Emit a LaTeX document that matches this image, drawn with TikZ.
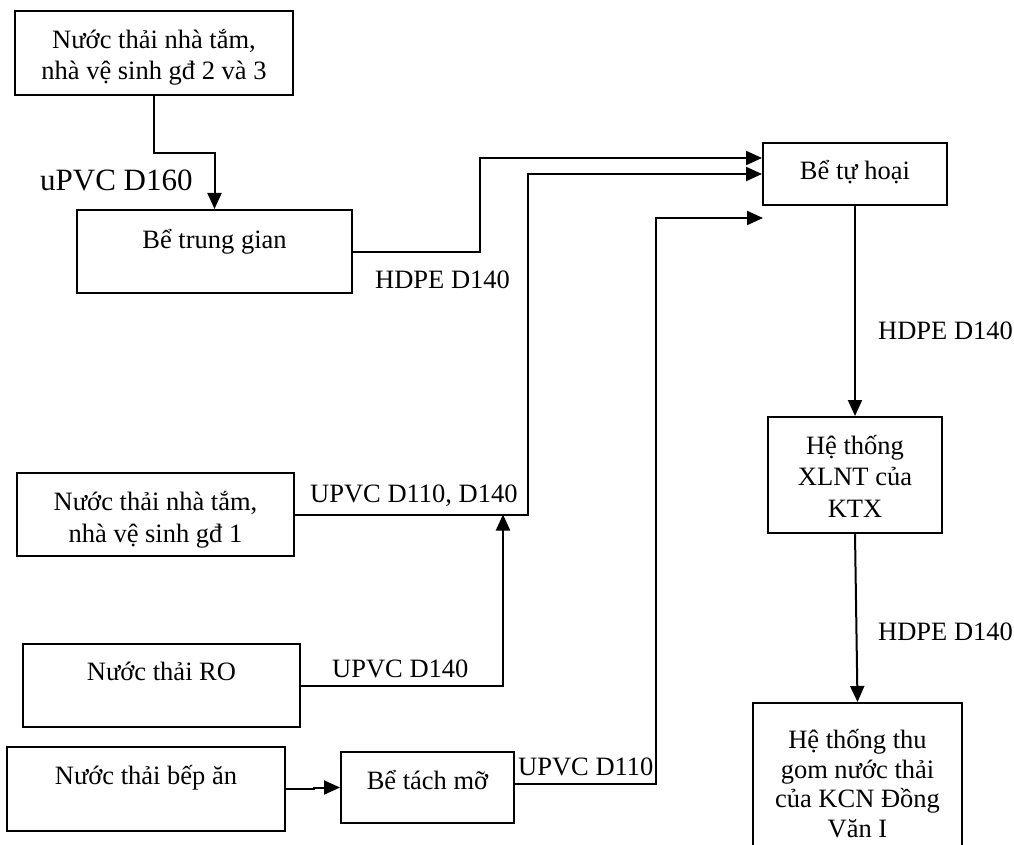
\documentclass[tikz,border=0pt]{standalone}
\usepackage{fontspec}
\setmainfont{Liberation Serif}
\usetikzlibrary{arrows.meta}
\begin{document}
\begin{tikzpicture}[x=1pt,y=-1pt,
  box/.style={draw, line width=2pt, inner sep=0pt},
  txt/.style={inner sep=0pt, align=center, anchor=base, font=\fontsize{26.5}{31.5}\selectfont},
  lbl/.style={inner sep=0pt, anchor=base west, font=\fontsize{26.5}{31.5}\selectfont},
  conn/.style={line width=2pt},
  arr/.style={conn, -{Triangle[length=16pt,width=14pt]}}]
\useasboundingbox (0,0) rectangle (1014,845);

% boxes
\node[box, minimum width=278pt, minimum height=84pt] (s23) at (154,53) {};
\node[txt] (s23t) at (154,80) {Nước thải nhà tắm,\\ nhà vệ sinh gđ 2 và 3};
\node[box, minimum width=275pt, minimum height=83pt] (tg) at (214.5,251.5) {};
\node[txt] (tgt) at (214.5,248) {Bể trung gian};
\node[box, minimum width=184pt, minimum height=62pt] (th) at (855,174) {};
\node[txt] (tht) at (855,180) {Bể tự hoại};
\node[box, minimum width=174pt, minimum height=116pt] (xl) at (855,475) {};
\node[txt] (xlt) at (855,517) {Hệ thống\\ XLNT của\\ KTX};
\node[box, minimum width=209pt, minimum height=200pt] (kcn) at (857.5,803) {};
\node[txt, font=\fontsize{26.5}{29.5}\selectfont] (kcnt) at (857.5,837) {Hệ thống thu\\ gom nước thải\\ của KCN Đồng\\ Văn I};
\node[box, minimum width=277pt, minimum height=83pt] (g1) at (155.5,514.5) {};
\node[txt] (g1t) at (155.5,542) {Nước thải nhà tắm,\\ nhà vệ sinh gđ 1};
\node[box, minimum width=277pt, minimum height=83pt] (ro) at (161.5,685.5) {};
\node[txt] (rot) at (161.5,680) {Nước thải RO};
\node[box, minimum width=278pt, minimum height=84pt] (ba) at (146,789) {};
\node[txt] (bat) at (146,784) {Nước thải bếp ăn};
\node[box, minimum width=173pt, minimum height=71pt] (tm) at (427.5,787.5) {};
\node[txt] (tmt) at (427.5,789) {Bể tách mỡ};

% connectors
\coordinate (j1) at (503,514.5);
\coordinate (ep) at (763,218);
\draw[arr] (s23.south) -- (154,153) -| (tg.north);
\draw[arr] (tg.east) -| (480,158) -- ([yshift=16pt]th.west);
\draw[arr] (g1.east) -| (528,174) -- (th.west);
\draw[arr] (ro.east) -| (j1);
\draw[arr] (ba.east) -- ++(28,0) |- (tm.west);
\draw[arr] ([yshift=3.5pt]tm.east) -| (656,218) -- (ep);
\draw[arr] (th.south) -- (xl.north);
\draw[arr] (xl.south) -- (kcn.north);

% labels
\node[lbl, font=\fontsize{31}{36}\selectfont] (l1) at (40,190) {uPVC D160};
\node[lbl] (l2) at (375,288) {HDPE D140};
\node[lbl] (l3) at (878,339) {HDPE D140};
\node[lbl] (l4) at (878,640) {HDPE D140};
\node[lbl] (l5) at (310,502) {UPVC D110, D140};
\node[lbl] (l6) at (332,677) {UPVC D140};
\node[lbl] (l7) at (518,775) {UPVC D110};
\end{tikzpicture}
\end{document}
